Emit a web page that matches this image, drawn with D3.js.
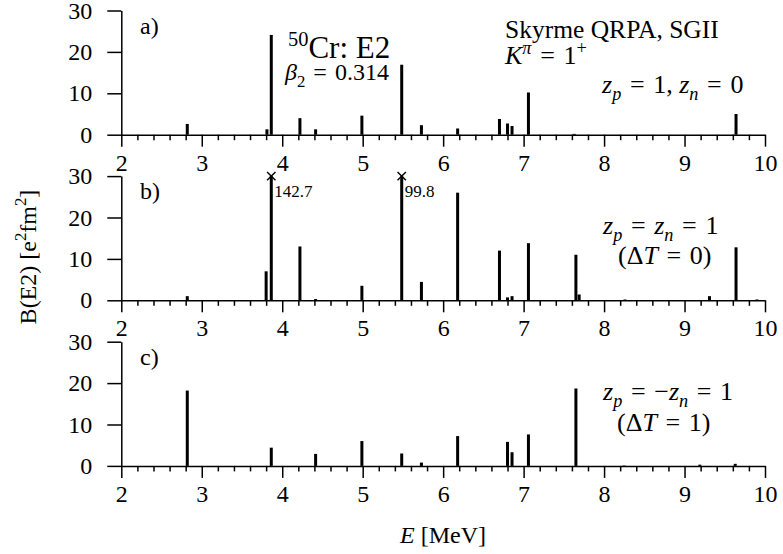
<!DOCTYPE html>
<html>
<head>
<meta charset="utf-8">
<script src="https://cdn.jsdelivr.net/npm/d3@7/dist/d3.min.js"></script>
<style>
  html, body { margin: 0; padding: 0; background: #fff; }
  svg { display: block; }
  svg text { font-family: "Liberation Serif", "Times New Roman", serif !important; fill: #000; }
</style>
</head>
<body>
<svg id="chart" width="783" height="554"></svg>
<script>
// ---- Data ----
const panelLabels = ["a)", "b)", "c)"];
const xTicks = [2, 3, 4, 5, 6, 7, 8, 9, 10];
const yTicks = [0, 10, 20, 30];

const energiesA = [2.82, 3.81, 3.864, 4.22, 4.415, 4.99, 5.485, 5.73, 6.18, 6.70, 6.80, 6.856, 7.06, 7.63, 9.64];
const valuesA   = [2.6, 1.3, 24.1, 4.0, 1.3, 4.6, 16.9, 2.3, 1.5, 3.8, 2.7, 2.1, 10.2, 0.2, 5.0];

const energiesB = [2.82, 3.80, 3.864, 4.22, 4.415, 4.99, 5.485, 5.73, 6.18, 6.70, 6.80, 6.856, 7.06, 7.65, 7.69, 8.26, 9.31, 9.64, 9.90];
const valuesB   = [1.0, 7.0, 142.7, 13.0, 0.3, 3.5, 99.8, 4.45, 26.0, 12.0, 0.7, 1.0, 13.8, 11.0, 1.4, 0.2, 1.0, 12.8, 0.2];

const energiesC = [2.82, 3.864, 4.415, 4.99, 5.485, 5.73, 6.18, 6.80, 6.856, 7.06, 7.65, 8.25, 9.19, 9.63];
const valuesC   = [18.2, 4.4, 2.9, 6.0, 3.0, 0.8, 7.2, 5.8, 3.3, 7.6, 18.7, 0.1, 0.3, 0.5];

const panels = [
  {E: energiesA, B: valuesA},
  {E: energiesB, B: valuesB},
  {E: energiesC, B: valuesC}
];

// ---- Layout ----
const FONT = '"Liberation Serif", "Times New Roman", serif';
const svg = d3.select("#chart");
const left = 121.3, right = 765;
const panelTop0 = 10.5, panelH = 124.2, panelStep = 165.6;
const yMax = 30;

const x = d3.scaleLinear().domain([2, 10]).range([left, right]);
const minorTicks = d3.range(2, 10.001, 0.2).map(v => +v.toFixed(1)).filter(v => Math.abs(v - Math.round(v)) > 1e-6);

function rich(parent, px, py, size, parts, anchor) {
  const t = parent.append("text").attr("x", px).attr("y", py)
    .attr("font-size", size).attr("text-anchor", anchor || "start")
    .style("font-family", FONT);
  let shift = 0;
  parts.forEach(p => {
    const target = p.sub ? size * 0.28 : p.sup ? -size * 0.4 : 0;
    const ts = t.append("tspan").text(p.t).attr("dy", target - shift);
    shift = target;
    if (p.sub || p.sup) ts.attr("font-size", size * (p.scale || 0.7));
    if (p.i) ts.attr("font-style", "italic");
  });
  return t;
}
const EQ = "\u2004=\u2004";

panels.forEach((p, i) => {
  const top = panelTop0 + i * panelStep;
  const y = d3.scaleLinear().domain([0, yMax]).range([top + panelH, top]);
  const g = svg.append("g");

  // bars
  const data = p.E.map((e, k) => ({e, v: p.B[k]}));
  g.selectAll("rect.bar").data(data).enter().append("rect")
    .attr("class", "bar")
    .attr("x", d => x(d.e) - 1.5)
    .attr("width", 3)
    .attr("y", d => y(Math.min(d.v, yMax)))
    .attr("height", d => y(0) - y(Math.min(d.v, yMax)))
    .attr("fill", "#000");

  // clipped bars: cross markers and value labels
  const over = data.filter(d => d.v > yMax);
  over.forEach(d => {
    const cx = x(d.e), cy = y(yMax), s = 4.2;
    g.append("path")
      .attr("d", `M${cx - s},${cy - s}L${cx + s},${cy + s}M${cx - s},${cy + s}L${cx + s},${cy - s}`)
      .attr("stroke", "#000").attr("stroke-width", 1.4).attr("fill", "none");
    g.append("text").attr("x", cx + 3).attr("y", cy + 20.5)
      .attr("font-size", 17).style("font-family", FONT).text(d.v.toFixed(1));
  });

  // x axis: minor ticks
  g.append("g").attr("transform", `translate(0,${y(0)})`)
    .call(d3.axisBottom(x).tickValues(minorTicks).tickSize(5.5).tickFormat("").tickSizeOuter(0))
    .call(a => a.selectAll("line").attr("stroke-width", 1.5))
    .call(a => a.select(".domain").remove());
  // x axis: major ticks + labels
  g.append("g").attr("transform", `translate(0,${y(0)})`)
    .call(d3.axisBottom(x).tickValues(xTicks).tickSize(12).tickPadding(7).tickSizeOuter(0).tickFormat(d3.format("d")))
    .attr("font-family", null)
    .call(a => a.select(".domain").attr("stroke-width", 1.5))
    .call(a => a.selectAll("line").attr("stroke-width", 1.5))
    .call(a => a.selectAll("text").attr("font-size", 24).style("font-family", FONT));

  // y axis
  g.append("g").attr("transform", `translate(${left},0)`)
    .call(d3.axisLeft(y).tickValues(yTicks).tickSize(14).tickPadding(15).tickSizeOuter(0).tickFormat(d3.format("d")))
    .attr("font-family", null)
    .call(a => a.select(".domain").attr("stroke-width", 1.5))
    .call(a => a.selectAll("line").attr("stroke-width", 1.5))
    .call(a => a.selectAll("text").attr("font-size", 24).style("font-family", FONT));

  // panel letter
  g.append("text").attr("x", 140).attr("y", top + 23).attr("font-size", 24)
    .style("font-family", FONT).text(panelLabels[i]);
});

// ---- Annotations ----
const ann = svg.append("g");
rich(ann, 288, 58, 31, [{t: "50", sup: true, scale: 0.66}, {t: "Cr: E2"}]);
rich(ann, 285, 80, 24, [{t: "β", i: true}, {t: "2", sub: true}, {t: EQ + "0.314"}]);
rich(ann, 505, 38, 25.5, [{t: "Skyrme QRPA, SGII"}]);
rich(ann, 505, 64, 26, [{t: "K", i: true}, {t: "π", sup: true, i: true}, {t: EQ + "1"}, {t: "+", sup: true}]);
rich(ann, 602, 93, 26, [{t: "z", i: true}, {t: "p", sub: true, i: true}, {t: EQ + "1, "}, {t: "z", i: true}, {t: "n", sub: true, i: true}, {t: EQ + "0"}]);

rich(ann, 603, 234, 26, [{t: "z", i: true}, {t: "p", sub: true, i: true}, {t: EQ}, {t: "z", i: true}, {t: "n", sub: true, i: true}, {t: EQ + "1"}]);
rich(ann, 618, 264, 26, [{t: "(Δ"}, {t: "T", i: true}, {t: EQ + "0)"}]);

rich(ann, 603, 400, 26, [{t: "z", i: true}, {t: "p", sub: true, i: true}, {t: EQ + "−"}, {t: "z", i: true}, {t: "n", sub: true, i: true}, {t: EQ + "1"}]);
rich(ann, 617, 431, 26, [{t: "(Δ"}, {t: "T", i: true}, {t: EQ + "1)"}]);

// axis titles
const yl = svg.append("g").attr("transform", "translate(36,257) rotate(-90)");
rich(yl, 0, 0, 24, [{t: "B(E2) [e"}, {t: "2", sup: true}, {t: "fm"}, {t: "2", sup: true}, {t: "]"}], "middle");
rich(svg, 443, 543, 24, [{t: "E", i: true}, {t: " [MeV]"}], "middle");
</script>
</body>
</html>
